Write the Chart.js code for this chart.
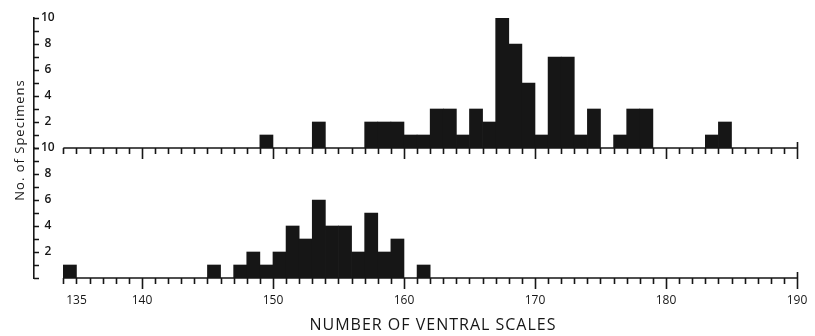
<!DOCTYPE html>
<html>
<head>
<meta charset="utf-8">
<script src="https://cdn.jsdelivr.net/npm/chart.js@4.4.1/dist/chart.umd.min.js"></script>
<style>
  html, body { margin: 0; padding: 0; background: #fff; }
</style>
</head>
<body>
<canvas id="ventralChart" width="815" height="336"></canvas>
<script>
"use strict";

// Ventral scale counts (left edge of each one-scale bin) and number of specimens
const upperScales = [149, 153, 157, 158, 159, 160, 161, 162, 163, 164, 165, 166, 167, 168, 169, 170, 171, 172, 173, 174, 176, 177, 178, 183, 184];
const upperCounts = [1, 2, 2, 2, 2, 1, 1, 3, 3, 1, 3, 2, 10, 8, 5, 1, 7, 7, 1, 3, 1, 3, 3, 1, 2];

const lowerScales = [134, 145, 147, 148, 149, 150, 151, 152, 153, 154, 155, 156, 157, 158, 159, 161];
const lowerCounts = [1, 1, 1, 2, 1, 2, 4, 3, 6, 4, 4, 2, 5, 2, 3, 1];

// Axis labels
const xTickValues = [135, 140, 150, 160, 170, 180, 190];
const yTickLabels = [2, 4, 6, 8, 10];
const xTitle = "NUMBER OF VENTRAL SCALES";
const yTitle = "No. of Specimens";

const INK = "#161616";

// each bin is one scale wide, so the bar sits in the middle of it
function toPoints(scales, counts) {
  return scales.map((s, i) => ({ x: s + 0.5, y: counts[i] }));
}

// baselines with small ticks under each panel, inward y ticks, and the two axis titles
const axisMarks = {
  id: "axisMarks",
  afterDraw(chart) {
    const ctx = chart.ctx;
    const x = chart.scales.x;
    const left = chart.chartArea.left;
    ctx.save();
    ctx.strokeStyle = INK;
    ctx.lineWidth = 1.6;
    ["yTop", "yBot"].forEach(id => {
      const yScale = chart.scales[id];
      const y0 = yScale.getPixelForValue(0);
      ctx.beginPath();
      ctx.moveTo(x.getPixelForValue(134), y0);
      ctx.lineTo(x.getPixelForValue(190), y0);
      for (let v = 134; v <= 190; v++) {
        const px = Math.round(x.getPixelForValue(v)) + 0.5;
        const len = v % 10 === 0 ? 11 : 6;
        ctx.moveTo(px, v === 190 ? y0 - 6 : y0);
        ctx.lineTo(px, y0 + len);
      }
      // short marks pointing into the plot on the y axis
      for (let v = 0; v <= 10; v++) {
        const py = Math.round(yScale.getPixelForValue(v)) + 0.5;
        ctx.moveTo(left, py);
        ctx.lineTo(left + 5, py);
      }
      ctx.stroke();
    });

    ctx.fillStyle = INK;
    ctx.textAlign = "center";
    ctx.textBaseline = "middle";
    ctx.font = '16px "Open Sans"';
    ctx.letterSpacing = "1px";
    ctx.fillText(xTitle, 433, 325);

    ctx.translate(20, 140);
    ctx.rotate(-Math.PI / 2);
    ctx.font = '13px "Open Sans"';
    ctx.fillText(yTitle, 0, 0);
    ctx.restore();
  }
};

function yAxis(weight) {
  return {
    type: "linear",
    position: "left",
    stack: "panels",
    stackWeight: 1,
    weight: weight,
    min: 0,
    max: 10,
    ticks: {
      stepSize: 1,
      autoSkip: false,
      mirror: true,
      padding: 7,
      crossAlign: "center",
      color: INK,
      font: { family: "Open Sans", size: 12, weight: "600" },
      callback: v => (yTickLabels.includes(v) ? v : "")
    },
    grid: { display: false },
    border: { color: INK, width: 1.6 },
    afterFit: s => {
      s.width = 34;
      s.paddingTop = 0;
      s.paddingBottom = 0;
    }
  };
}

new Chart(document.getElementById("ventralChart"), {
  type: "bar",
  data: {
    datasets: [
      {
        data: toPoints(upperScales, upperCounts),
        yAxisID: "yTop",
        backgroundColor: INK,
        borderWidth: 0,
        barPercentage: 1,
        categoryPercentage: 1,
        grouped: false
      },
      {
        data: toPoints(lowerScales, lowerCounts),
        yAxisID: "yBot",
        backgroundColor: INK,
        borderWidth: 0,
        barPercentage: 1,
        categoryPercentage: 1,
        grouped: false
      }
    ]
  },
  options: {
    responsive: false,
    animation: false,
    layout: { padding: { top: 18, right: 10, left: 0, bottom: 0 } },
    plugins: { legend: { display: false }, tooltip: { enabled: false } },
    scales: {
      x: {
        type: "linear",
        offset: false,
        min: 131.76,
        max: 190.61,
        grid: { display: false, offset: false },
        border: { display: false },
        afterBuildTicks: s => {
          s.ticks = xTickValues.map(v => ({ value: v }));
        },
        ticks: {
          padding: 7,
          autoSkip: false,
          maxRotation: 0,
          color: INK,
          font: { family: "Open Sans", size: 12 }
        },
        afterFit: s => {
          s.height = 58;
          s.paddingLeft = 0;
          s.paddingRight = 0;
        }
      },
      yTop: yAxis(2),
      yBot: yAxis(1)
    }
  },
  plugins: [axisMarks]
});
</script>
</body>
</html>
